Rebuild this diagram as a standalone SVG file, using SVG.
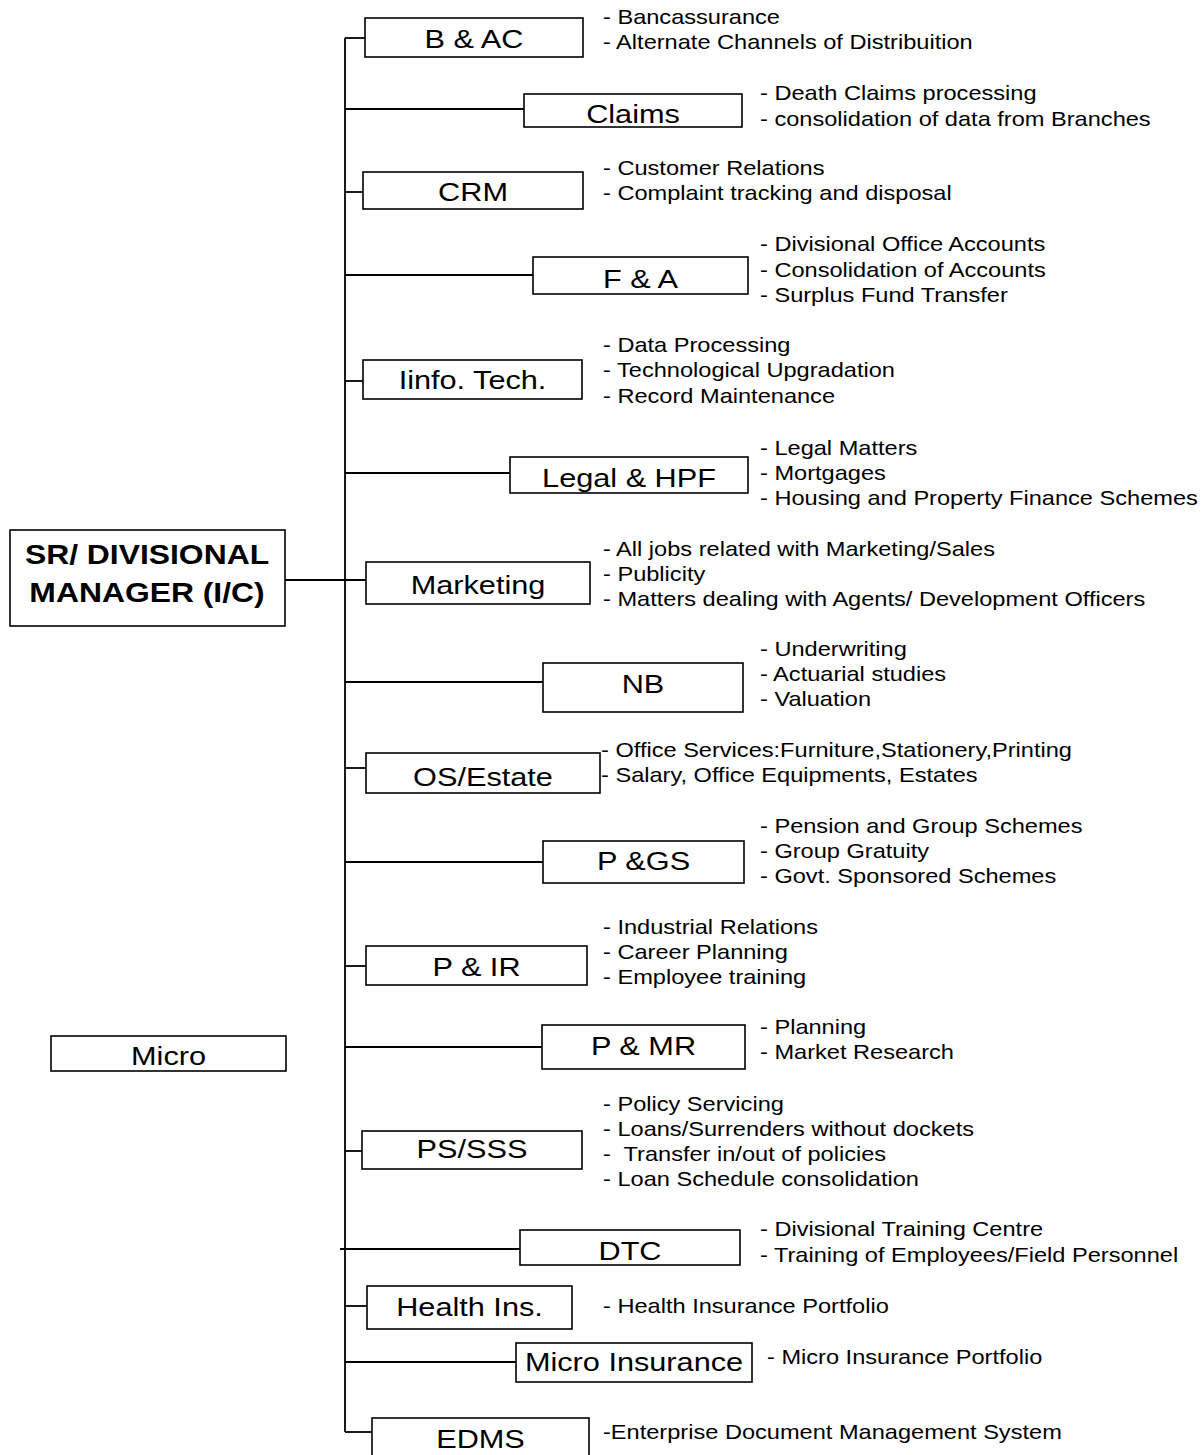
<svg xmlns="http://www.w3.org/2000/svg" width="1202" height="1455" viewBox="0 0 1202 1455">
<style>
.box{fill:#fff;stroke:#000;stroke-width:1.6}
.lbl{font-family:"Liberation Sans",Arial,sans-serif;font-size:26px;text-anchor:middle;fill:#000}
.big{font-family:"Liberation Sans",Arial,sans-serif;font-size:27px;font-weight:bold;text-anchor:middle;fill:#000}
.desc{font-family:"Liberation Sans",Arial,sans-serif;font-size:20px;fill:#000;white-space:pre}
.con{stroke:#000;stroke-width:1.8;fill:none}
</style>
<rect width="1202" height="1455" fill="#fff"/>
<g id="connectors" class="con">
<path d="M345 38V1432"/>
<path d="M345 38H365"/>
<path d="M345 109H524"/>
<path d="M345 192H363"/>
<path d="M345 275H533"/>
<path d="M345 381H363"/>
<path d="M345 473H510"/>
<path d="M285 580H366"/>
<path d="M345 682H543"/>
<path d="M345 768H366"/>
<path d="M345 862H543"/>
<path d="M345 966H366"/>
<path d="M345 1047H542"/>
<path d="M345 1151H362"/>
<path d="M340 1249H520"/>
<path d="M345 1306H367"/>
<path d="M345 1362H516"/>
<path d="M345 1432H372"/>
</g>
<g id="manager">
<rect class="box" x="10" y="530" width="275" height="96"/>
<text class="big" transform="translate(147 564) scale(1.18 1)">SR/ DIVISIONAL</text>
<text class="big" transform="translate(147 602) scale(1.18 1)">MANAGER (I/C)</text>
</g>
<g id="micro">
<rect class="box" x="51" y="1036" width="235" height="35"/>
<text class="lbl" transform="translate(168.5 1065) scale(1.18 1)">Micro</text>
</g>
<g id="bac">
<rect class="box" x="365" y="18" width="218" height="39"/>
<text class="lbl" transform="translate(474 48) scale(1.18 1)">B &amp; AC</text>
<text class="desc" transform="translate(603 24) scale(1.18 1)"><tspan x="0" y="0">- Bancassurance</tspan><tspan x="0" y="25">- Alternate Channels of Distribuition</tspan></text>
</g>
<g id="claims">
<rect class="box" x="524" y="94" width="218" height="33"/>
<text class="lbl" transform="translate(633 123) scale(1.18 1)">Claims</text>
<text class="desc" transform="translate(760 100) scale(1.18 1)"><tspan x="0" y="0">- Death Claims processing</tspan><tspan x="0" y="26">- consolidation of data from Branches</tspan></text>
</g>
<g id="crm">
<rect class="box" x="363" y="172" width="220" height="37"/>
<text class="lbl" transform="translate(473 201) scale(1.18 1)">CRM</text>
<text class="desc" transform="translate(603 175) scale(1.18 1)"><tspan x="0" y="0">- Customer Relations</tspan><tspan x="0" y="25">- Complaint tracking and disposal</tspan></text>
</g>
<g id="fa">
<rect class="box" x="533" y="257" width="215" height="37"/>
<text class="lbl" transform="translate(640.5 288) scale(1.18 1)">F &amp; A</text>
<text class="desc" transform="translate(760 251) scale(1.18 1)"><tspan x="0" y="0">- Divisional Office Accounts</tspan><tspan x="0" y="26">- Consolidation of Accounts</tspan><tspan x="0" y="51">- Surplus Fund Transfer</tspan></text>
</g>
<g id="it">
<rect class="box" x="363" y="360" width="219" height="39"/>
<text class="lbl" transform="translate(472.5 389) scale(1.18 1)">Iinfo. Tech.</text>
<text class="desc" transform="translate(603 352) scale(1.18 1)"><tspan x="0" y="0">- Data Processing</tspan><tspan x="0" y="25">- Technological Upgradation</tspan><tspan x="0" y="51">- Record Maintenance</tspan></text>
</g>
<g id="legal">
<rect class="box" x="510" y="457" width="238" height="36"/>
<text class="lbl" transform="translate(629 487) scale(1.18 1)">Legal &amp; HPF</text>
<text class="desc" transform="translate(760 455) scale(1.18 1)"><tspan x="0" y="0">- Legal Matters</tspan><tspan x="0" y="25">- Mortgages</tspan><tspan x="0" y="50">- Housing and Property Finance Schemes</tspan></text>
</g>
<g id="marketing">
<rect class="box" x="366" y="562" width="224" height="42"/>
<text class="lbl" transform="translate(478 594) scale(1.18 1)">Marketing</text>
<text class="desc" transform="translate(603 556) scale(1.18 1)"><tspan x="0" y="0">- All jobs related with Marketing/Sales</tspan><tspan x="0" y="25">- Publicity</tspan><tspan x="0" y="50">- Matters dealing with Agents/ Development Officers</tspan></text>
</g>
<g id="nb">
<rect class="box" x="543" y="663" width="200" height="49"/>
<text class="lbl" transform="translate(643 693) scale(1.18 1)">NB</text>
<text class="desc" transform="translate(760 656) scale(1.18 1)"><tspan x="0" y="0">- Underwriting</tspan><tspan x="0" y="25">- Actuarial studies</tspan><tspan x="0" y="50">- Valuation</tspan></text>
</g>
<g id="os">
<rect class="box" x="366" y="753" width="234" height="40"/>
<text class="lbl" transform="translate(483 786) scale(1.18 1)">OS/Estate</text>
<text class="desc" transform="translate(601 757) scale(1.18 1)"><tspan x="0" y="0">- Office Services:Furniture,Stationery,Printing</tspan><tspan x="0" y="25">- Salary, Office Equipments, Estates</tspan></text>
</g>
<g id="pgs">
<rect class="box" x="543" y="841" width="201" height="42"/>
<text class="lbl" transform="translate(643.5 870) scale(1.18 1)">P &amp;GS</text>
<text class="desc" transform="translate(760 833) scale(1.18 1)"><tspan x="0" y="0">- Pension and Group Schemes</tspan><tspan x="0" y="25">- Group Gratuity</tspan><tspan x="0" y="50">- Govt. Sponsored Schemes</tspan></text>
</g>
<g id="pir">
<rect class="box" x="366" y="946" width="221" height="39"/>
<text class="lbl" transform="translate(476.5 976) scale(1.18 1)">P &amp; IR</text>
<text class="desc" transform="translate(603 934) scale(1.18 1)"><tspan x="0" y="0">- Industrial Relations</tspan><tspan x="0" y="25">- Career Planning</tspan><tspan x="0" y="50">- Employee training</tspan></text>
</g>
<g id="pmr">
<rect class="box" x="542" y="1025" width="203" height="44"/>
<text class="lbl" transform="translate(643.5 1055) scale(1.18 1)">P &amp; MR</text>
<text class="desc" transform="translate(760 1034) scale(1.18 1)"><tspan x="0" y="0">- Planning</tspan><tspan x="0" y="25">- Market Research</tspan></text>
</g>
<g id="ps">
<rect class="box" x="362" y="1131" width="220" height="38"/>
<text class="lbl" transform="translate(472 1158) scale(1.18 1)">PS/SSS</text>
<text class="desc" transform="translate(603 1111) scale(1.18 1)"><tspan x="0" y="0">- Policy Servicing</tspan><tspan x="0" y="25">- Loans/Surrenders without dockets</tspan><tspan x="0" y="50">-  Transfer in/out of policies</tspan><tspan x="0" y="75">- Loan Schedule consolidation</tspan></text>
</g>
<g id="dtc">
<rect class="box" x="520" y="1230" width="220" height="35"/>
<text class="lbl" transform="translate(630 1260) scale(1.18 1)">DTC</text>
<text class="desc" transform="translate(760 1236) scale(1.18 1)"><tspan x="0" y="0">- Divisional Training Centre</tspan><tspan x="0" y="26">- Training of Employees/Field Personnel</tspan></text>
</g>
<g id="health">
<rect class="box" x="367" y="1286" width="205" height="43"/>
<text class="lbl" transform="translate(469.5 1316) scale(1.18 1)">Health Ins.</text>
<text class="desc" transform="translate(603 1313) scale(1.18 1)">- Health Insurance Portfolio</text>
</g>
<g id="microins">
<rect class="box" x="516" y="1343" width="236" height="39"/>
<text class="lbl" transform="translate(634 1371) scale(1.18 1)">Micro Insurance</text>
<text class="desc" transform="translate(767 1364) scale(1.18 1)">- Micro Insurance Portfolio</text>
</g>
<g id="edms">
<rect class="box" x="372" y="1418" width="217" height="45"/>
<text class="lbl" transform="translate(480.5 1448) scale(1.18 1)">EDMS</text>
<text class="desc" transform="translate(603 1439) scale(1.18 1)">-Enterprise Document Management System</text>
</g>
</svg>
